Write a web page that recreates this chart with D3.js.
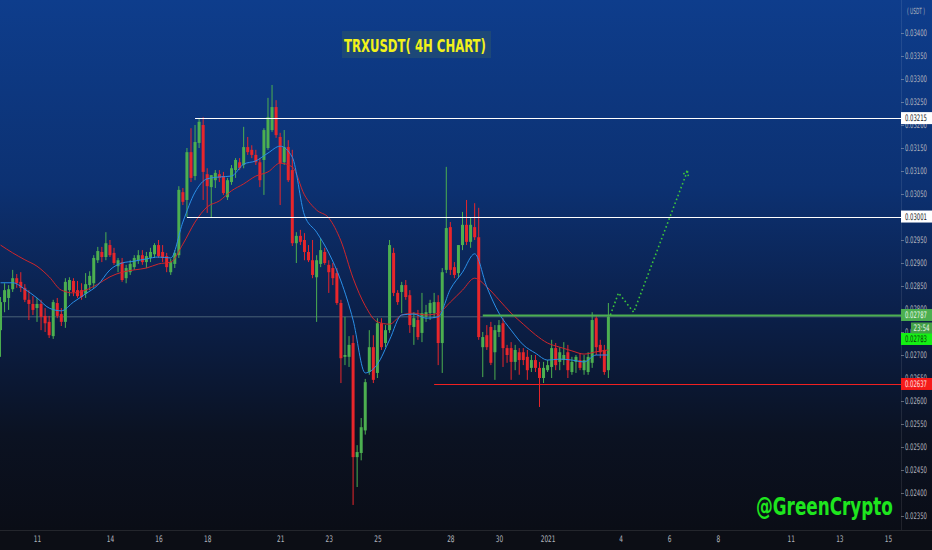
<!DOCTYPE html>
<html>
<head>
<meta charset="utf-8">
<script src="https://cdn.jsdelivr.net/npm/d3@7"></script>
<style>
  html, body { margin: 0; padding: 0; background: #0b0e16; overflow: hidden; }
  text { font-family: "DejaVu Sans Condensed", "DejaVu Sans", sans-serif; }
</style>
</head>
<body>
<svg id="chart" width="932" height="550"></svg>
<script>
// TRXUSDT 4h candles, first one opens Dec 9 2020 12:00
const firstCandle = new Date(2020, 11, 9, 12);
const candleHours = 4;

const opens = [0.02754,0.02815,0.02824,0.02843,0.02867,0.02859,0.02846,0.02820,0.02811,0.02802,
  0.02811,0.02785,0.02772,0.02741,0.02813,0.02789,0.02772,0.02841,0.02861,0.02841,
  0.02841,0.02833,0.02852,0.02856,0.02906,0.02924,0.02913,0.02939,0.02922,0.02893,
  0.02902,0.02867,0.02880,0.02891,0.02906,0.02917,0.02902,0.02911,0.02919,0.02939,
  0.02924,0.02915,0.02880,0.02898,0.02917,0.03054,0.03037,0.03141,0.03089,0.03161,
  0.03200,0.03093,0.03065,0.03080,0.03093,0.03089,0.03043,0.03076,0.03102,0.03119,
  0.03113,0.03152,0.03146,0.03135,0.03119,0.03124,0.03150,0.03189,0.03239,0.03174,
  0.03119,0.03152,0.03102,0.02943,0.02959,0.02950,0.02924,0.02906,0.02869,0.02898,
  0.02924,0.02896,0.02889,0.02878,0.02813,0.02696,0.02696,0.02726,0.02478,0.02487,
  0.02536,0.02663,0.02717,0.02661,0.02769,0.02726,0.02754,0.02922,0.02835,0.02837,
  0.02852,0.02830,0.02761,0.02776,0.02748,0.02783,0.02791,0.02791,0.02815,0.02726,
  0.02885,0.02978,0.02891,0.02878,0.02939,0.02983,0.02946,0.02978,0.02956,0.02717,
  0.02743,0.02761,0.02706,0.02750,0.02769,0.02715,0.02715,0.02685,0.02706,0.02706,
  0.02696,0.02672,0.02689,0.02672,0.02650,0.02667,0.02674,0.02715,0.02685,0.02689,
  0.02706,0.02663,0.02685,0.02689,0.02667,0.02663,0.02683,0.02780,0.02722,0.02711,
  0.02667];
const highs = [0.02826,0.02856,0.02852,0.02885,0.02876,0.02880,0.02854,0.02841,0.02828,0.02824,
  0.02820,0.02802,0.02785,0.02820,0.02824,0.02802,0.02867,0.02869,0.02867,0.02861,
  0.02856,0.02878,0.02882,0.02917,0.02935,0.02935,0.02967,0.02950,0.02933,0.02911,
  0.02911,0.02896,0.02906,0.02917,0.02928,0.02928,0.02924,0.02933,0.02943,0.02950,
  0.02939,0.02922,0.02909,0.02928,0.03067,0.03063,0.03150,0.03193,0.03200,0.03215,
  0.03217,0.03106,0.03091,0.03102,0.03102,0.03098,0.03085,0.03113,0.03128,0.03128,
  0.03196,0.03174,0.03156,0.03146,0.03128,0.03193,0.03259,0.03287,0.03254,0.03183,
  0.03189,0.03167,0.03146,0.02967,0.02972,0.02965,0.02939,0.02950,0.02917,0.02954,
  0.02933,0.02906,0.02900,0.02889,0.02820,0.02783,0.02741,0.02743,0.02504,0.02563,
  0.02648,0.02754,0.02743,0.02780,0.02780,0.02765,0.02950,0.02933,0.02841,0.02859,
  0.02863,0.02841,0.02793,0.02798,0.02835,0.02809,0.02820,0.02835,0.02830,0.02889,
  0.03109,0.02989,0.02902,0.02939,0.03011,0.03037,0.02998,0.03030,0.03020,0.02750,
  0.02765,0.02772,0.02765,0.02776,0.02780,0.02722,0.02728,0.02722,0.02715,0.02715,
  0.02711,0.02700,0.02700,0.02685,0.02685,0.02689,0.02733,0.02726,0.02717,0.02728,
  0.02722,0.02696,0.02700,0.02704,0.02700,0.02706,0.02793,0.02787,0.02733,0.02722,
  0.02813];
const lows = [0.02696,0.02793,0.02798,0.02837,0.02846,0.02837,0.02815,0.02776,0.02787,0.02772,
  0.02754,0.02750,0.02737,0.02735,0.02780,0.02763,0.02759,0.02828,0.02828,0.02824,
  0.02820,0.02824,0.02841,0.02846,0.02900,0.02902,0.02906,0.02913,0.02896,0.02880,
  0.02859,0.02856,0.02874,0.02885,0.02898,0.02896,0.02889,0.02902,0.02911,0.02911,
  0.02902,0.02880,0.02874,0.02889,0.02911,0.03026,0.03000,0.03076,0.03080,0.03150,
  0.03037,0.03009,0.03000,0.03063,0.03076,0.03048,0.03037,0.03070,0.03085,0.03102,
  0.03106,0.03135,0.03128,0.03113,0.03065,0.03048,0.03146,0.03185,0.03172,0.03026,
  0.03113,0.03076,0.02937,0.02900,0.02939,0.02906,0.02902,0.02867,0.02772,0.02891,
  0.02896,0.02835,0.02852,0.02809,0.02639,0.02678,0.02674,0.02374,0.02413,0.02471,
  0.02527,0.02657,0.02639,0.02650,0.02711,0.02717,0.02748,0.02828,0.02809,0.02791,
  0.02820,0.02748,0.02722,0.02733,0.02728,0.02772,0.02776,0.02780,0.02678,0.02661,
  0.02878,0.02874,0.02867,0.02867,0.02928,0.02939,0.02933,0.02950,0.02733,0.02652,
  0.02711,0.02678,0.02646,0.02739,0.02674,0.02683,0.02646,0.02667,0.02657,0.02678,
  0.02646,0.02663,0.02663,0.02587,0.02639,0.02663,0.02650,0.02667,0.02667,0.02678,
  0.02650,0.02657,0.02661,0.02667,0.02657,0.02657,0.02672,0.02700,0.02693,0.02657,
  0.02650];
const closes = [0.02815,0.02841,0.02843,0.02867,0.02856,0.02846,0.02820,0.02811,0.02798,0.02811,
  0.02783,0.02769,0.02743,0.02815,0.02785,0.02772,0.02859,0.02863,0.02837,0.02828,
  0.02826,0.02854,0.02872,0.02911,0.02926,0.02913,0.02943,0.02917,0.02900,0.02906,
  0.02863,0.02889,0.02898,0.02911,0.02917,0.02902,0.02915,0.02924,0.02939,0.02915,
  0.02911,0.02891,0.02902,0.02922,0.03059,0.03033,0.03141,0.03085,0.03163,0.03207,
  0.03098,0.03067,0.03091,0.03096,0.03085,0.03052,0.03080,0.03106,0.03124,0.03106,
  0.03152,0.03141,0.03135,0.03119,0.03080,0.03189,0.03217,0.03239,0.03178,0.03117,
  0.03152,0.03080,0.02943,0.02959,0.02946,0.02924,0.02906,0.02874,0.02906,0.02928,
  0.02900,0.02880,0.02867,0.02813,0.02693,0.02700,0.02722,0.02478,0.02489,0.02543,
  0.02641,0.02717,0.02646,0.02769,0.02717,0.02754,0.02939,0.02835,0.02815,0.02852,
  0.02826,0.02765,0.02780,0.02739,0.02791,0.02793,0.02813,0.02815,0.02726,0.02880,
  0.02976,0.02885,0.02874,0.02939,0.02983,0.02946,0.02983,0.02956,0.02739,0.02739,
  0.02717,0.02683,0.02754,0.02765,0.02715,0.02700,0.02685,0.02711,0.02689,0.02689,
  0.02667,0.02689,0.02672,0.02650,0.02672,0.02678,0.02715,0.02678,0.02706,0.02700,
  0.02667,0.02685,0.02696,0.02672,0.02689,0.02696,0.02776,0.02717,0.02706,0.02663,
  0.02783];

// moving averages every 12h from the first candle
const maStepHours = 12;
const maFast = [0.02857,0.02857,0.02843,0.02824,0.02802,0.02796,0.02815,0.02833,0.02852,0.02885,
  0.02900,0.02904,0.02909,0.02913,0.02911,0.02989,0.03054,0.03083,0.03087,0.03089,
  0.03115,0.03122,0.03139,0.03154,0.03130,0.03004,0.02967,0.02922,0.02861,0.02776,
  0.02661,0.02680,0.02733,0.02787,0.02789,0.02780,0.02783,0.02843,0.02880,0.02920,
  0.02848,0.02791,0.02754,0.02722,0.02704,0.02689,0.02691,0.02689,0.02685,0.02700,0.02700];
const maSlow = [0.02939,0.02922,0.02907,0.02893,0.02870,0.02841,0.02835,0.02841,0.02854,0.02870,
  0.02880,0.02885,0.02889,0.02898,0.02902,0.02941,0.02989,0.03022,0.03035,0.03057,
  0.03072,0.03089,0.03098,0.03117,0.03109,0.03048,0.03015,0.02998,0.02948,0.02867,
  0.02807,0.02772,0.02767,0.02787,0.02791,0.02787,0.02791,0.02815,0.02841,0.02867,
  0.02848,0.02820,0.02791,0.02767,0.02744,0.02726,0.02717,0.02709,0.02702,0.02707,0.02711];

// drawn horizontal levels and when each one starts
const levelPrices = [0.03215, 0.03001, 0.02787, 0.02637];
const levelStarts = [new Date(2020,11,17,12), new Date(2020,11,17,4), new Date(2020,11,29,8), new Date(2020,11,27,8)];

// dotted projection
const projTimes = [new Date(2021,0,3,14), new Date(2021,0,3,22), new Date(2021,0,4,13), new Date(2021,0,6,18)];
const projPrices = [0.02787, 0.02835, 0.02793, 0.03100];

const priceTicks = [0.0235,0.024,0.0245,0.025,0.0255,0.026,0.0265,0.027,0.0275,0.028,0.0285,
  0.029,0.0295,0.030,0.0305,0.031,0.0315,0.032,0.0325,0.033,0.0335,0.034];
const dateTicks = [new Date(2020,11,11), new Date(2020,11,14), new Date(2020,11,16), new Date(2020,11,18),
  new Date(2020,11,21), new Date(2020,11,23), new Date(2020,11,25), new Date(2020,11,28),
  new Date(2020,11,30), new Date(2021,0,1), new Date(2021,0,4), new Date(2021,0,6),
  new Date(2021,0,8), new Date(2021,0,11), new Date(2021,0,13), new Date(2021,0,15)];

const W = 932, H = 550, plotW = 901, plotH = 530;
const green = '#4caf50', red = '#e8262b';

// narrow a text horizontally to a given width around its x anchor
function squeeze(sel, width) {
  sel.each(function(d, i) {
    const w = typeof width === 'function' ? width.call(this, d, i) : width;
    const n = this.getComputedTextLength();
    const x0 = +this.getAttribute('x') || 0;
    d3.select(this).attr('transform',
      `translate(${x0},0) scale(${(w / n).toFixed(3)},1) translate(${-x0},0)`);
  });
}

const svg = d3.select('#chart');
const defs = svg.append('defs');
const grad = defs.append('linearGradient').attr('id', 'bg')
  .attr('x1', 0).attr('y1', 0).attr('x2', 0).attr('y2', 1);
[[0, '#0e3d8c'], [0.35, '#0c3172'], [0.6, '#0b1f48'], [0.82, '#0b1222'], [1, '#0a0d16']]
  .forEach(([o, c]) => grad.append('stop').attr('offset', o).attr('stop-color', c));
defs.append('clipPath').attr('id', 'plot')
  .append('rect').attr('width', plotW).attr('height', plotH);

svg.append('rect').attr('width', W).attr('height', plotH).attr('fill', 'url(#bg)');
svg.append('rect').attr('y', plotH).attr('width', W).attr('height', H - plotH).attr('fill', '#0c0e15');

const x = d3.scaleTime()
  .domain([new Date(2020,11,11), new Date(2021,0,15)])
  .range([37, 888]);
const y = d3.scaleLinear().domain([0.0235, 0.034]).range([516, 33]);

const candles = closes.map((c, i) => ({
  t: d3.timeHour.offset(firstCandle, candleHours * i),
  o: opens[i], h: highs[i], l: lows[i], c
}));

const plot = svg.append('g').attr('clip-path', 'url(#plot)');

// last price line
plot.append('line')
  .attr('x1', 0).attr('x2', plotW)
  .attr('y1', y(closes[closes.length - 1])).attr('y2', y(closes[closes.length - 1]))
  .attr('stroke', 'rgba(150,180,180,0.45)').attr('stroke-width', 1);

const candle = plot.append('g').selectAll('g')
  .data(candles)
  .enter()
  .append('g')
  .attr('transform', d => `translate(${x(d.t)},0)`)
  .attr('fill', d => d.c >= d.o ? green : red)
  .attr('stroke', d => d.c >= d.o ? green : red);

candle.append('line')
  .attr('y1', d => y(d.h)).attr('y2', d => y(d.l))
  .attr('stroke-width', 1);

candle.append('rect')
  .attr('x', -1.5).attr('width', 3)
  .attr('y', d => y(Math.max(d.o, d.c)))
  .attr('height', d => Math.max(1, Math.abs(y(d.o) - y(d.c))))
  .attr('stroke', 'none');

const maLine = d3.line()
  .x((d, i) => x(d3.timeHour.offset(firstCandle, maStepHours * i)))
  .y(d => y(d))
  .curve(d3.curveMonotoneX);

plot.append('path').datum(maSlow)
  .attr('d', maLine).attr('fill', 'none')
  .attr('stroke', '#d0262b').attr('stroke-width', 1);
plot.append('path').datum(maFast)
  .attr('d', maLine).attr('fill', 'none')
  .attr('stroke', '#2a8fe8').attr('stroke-width', 1);

// horizontal levels
const levelColors = ['#ffffff', '#ffffff', green, '#f02020'];
const levelWidths = [1, 1, 2, 1.2];
plot.selectAll('.level')
  .data(levelPrices)
  .enter()
  .append('line')
  .attr('class', 'level')
  .attr('x1', (d, i) => x(levelStarts[i])).attr('x2', plotW)
  .attr('y1', d => Math.round(y(d)) + 0.5).attr('y2', d => Math.round(y(d)) + 0.5)
  .attr('stroke', (d, i) => levelColors[i])
  .attr('stroke-width', (d, i) => levelWidths[i]);

// projection
const proj = projTimes.map((t, i) => [x(t), y(projPrices[i])]);
plot.append('path')
  .attr('d', d3.line()(proj))
  .attr('fill', 'none').attr('stroke', '#3cc33c')
  .attr('stroke-width', 1.6).attr('stroke-dasharray', '1.6,2.6');
const [ax, ay] = proj[proj.length - 1], [bx, by] = proj[proj.length - 2];
const ang = Math.atan2(ay - by, ax - bx);
[ang + 2.6, ang - 2.6].forEach(a => {
  plot.append('line')
    .attr('x1', ax).attr('y1', ay)
    .attr('x2', ax + 7 * Math.cos(a)).attr('y2', ay + 7 * Math.sin(a))
    .attr('stroke', '#3cc33c').attr('stroke-width', 1.6)
    .attr('stroke-dasharray', '1.6,2');
});

// separators
svg.append('line').attr('x1', plotW + 0.5).attr('x2', plotW + 0.5).attr('y1', 0).attr('y2', plotH)
  .attr('stroke', 'rgba(255,255,255,0.09)');
svg.append('line').attr('x1', 0).attr('x2', W).attr('y1', plotH + 0.5).attr('y2', plotH + 0.5)
  .attr('stroke', 'rgba(255,255,255,0.1)');

// price axis
const yAxis = svg.append('g')
  .attr('transform', `translate(${plotW},0)`)
  .call(d3.axisRight(y).tickValues(priceTicks).tickFormat(d3.format('.5f')).tickSize(3).tickPadding(1));
yAxis.select('.domain').remove();
yAxis.selectAll('line').attr('stroke', 'rgba(178,181,190,0.5)');
yAxis.selectAll('text')
  .attr('fill', '#b2b5be').attr('font-size', 9)
  .call(squeeze, 22);

svg.append('text')
  .attr('x', 916).attr('y', 14)
  .attr('text-anchor', 'middle')
  .attr('fill', '#b2b5be').attr('font-size', 8.5)
  .text('( USDT )')
  .call(squeeze, 18);

// time axis
const xAxis = svg.append('g')
  .attr('transform', `translate(0,${plotH})`)
  .call(d3.axisBottom(x).tickValues(dateTicks)
    .tickFormat(d => d.getMonth() === 0 && d.getDate() === 1 ? '2021' : d.getDate())
    .tickSize(0).tickPadding(6));
xAxis.select('.domain').remove();
xAxis.selectAll('text')
  .attr('fill', '#b2b5be').attr('font-size', 9)
  .call(squeeze, function() { return this.textContent.length * 3.7; });

// price labels on the axis
const lastPrice = closes[closes.length - 1];
const tags = [
  { v: levelPrices[0], yy: y(levelPrices[0]), bg: '#ffffff', fg: '#131722' },
  { v: levelPrices[1], yy: y(levelPrices[1]), bg: '#ffffff', fg: '#131722' },
  { v: levelPrices[2], yy: y(levelPrices[2]), bg: '#4caf50', fg: '#e8f5e9' },
  // last price tag is pushed below the level tag and the countdown
  { v: lastPrice, yy: y(levelPrices[2]) + 24, bg: '#14f014', fg: '#0b3d0b' },
  { v: levelPrices[3], yy: y(levelPrices[3]), bg: '#f51a1a', fg: '#ffe0e0' }
];
const tag = svg.append('g').selectAll('g')
  .data(tags)
  .enter()
  .append('g')
  .attr('transform', d => `translate(${plotW},${d.yy})`);
tag.append('rect')
  .attr('x', 0).attr('y', -6).attr('width', W - plotW).attr('height', 12)
  .attr('fill', d => d.bg);
tag.append('text')
  .attr('x', 4).attr('y', 3.2)
  .attr('fill', d => d.fg).attr('font-size', 9)
  .text(d => d3.format('.5f')(d.v))
  .call(squeeze, 22);

const cd = svg.append('g').attr('transform', `translate(${plotW + 10},${y(levelPrices[2]) + 13})`);
cd.append('rect').attr('x', 0).attr('y', -5.5).attr('width', W - plotW - 10).attr('height', 11)
  .attr('fill', '#43a047');
cd.append('text').attr('x', 2.5).attr('y', 3.2)
  .attr('fill', '#e8f5e9').attr('font-size', 9)
  .text('23:54')
  .call(squeeze, 16);

// title
svg.append('rect')
  .attr('x', 342).attr('y', 31).attr('width', 149).attr('height', 27)
  .attr('fill', '#1d4878');
svg.append('text')
  .attr('x', 344).attr('y', 52)
  .attr('fill', '#f2f21a').attr('font-size', 18).attr('font-weight', 'bold')
  .text('TRXUSDT( 4H CHART)')
  .call(squeeze, 142);

// watermark
svg.append('text')
  .attr('x', 756).attr('y', 515)
  .attr('fill', '#1ee61e').attr('font-size', 25).attr('font-weight', 'bold')
  .text('@GreenCrypto')
  .call(squeeze, 137);
</script>
</body>
</html>
